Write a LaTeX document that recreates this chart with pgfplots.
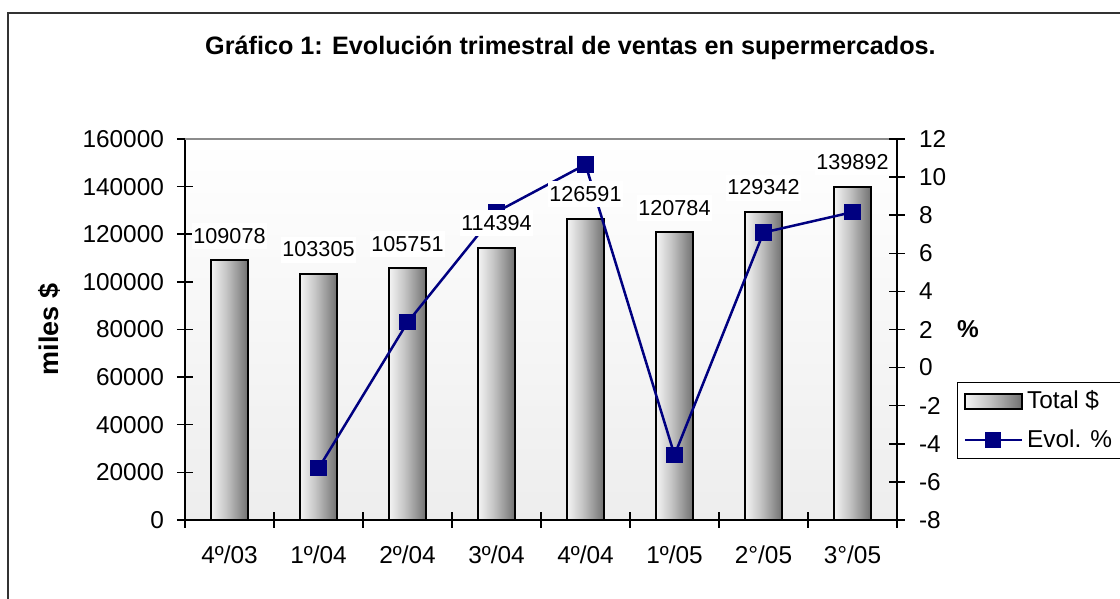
\documentclass[border=0pt]{standalone}
\usepackage{fontspec}
\setmainfont{Liberation Sans}
\usepackage{pgfplots}
\pgfplotsset{compat=1.18}
\definecolor{evolblue}{HTML}{000080}
\pgfdeclarehorizontalshading{barshade}{100bp}{color(0bp)=(black!12); color(20bp)=(white); color(45bp)=(black!22); color(70bp)=(black!50); color(100bp)=(black!90)}

\pgfplotsset{
  basechart/.style={
    scale only axis, width=356pt, height=190.5pt,
    at={(92.5pt,39.5pt)}, anchor=south west,
    xmin=-0.5, xmax=7.5,
    /pgf/number format/assume math mode=true,
    /pgf/number format/fixed,
    /pgf/number format/1000 sep={},
    tick align=center, major tick length=8pt,
    axis line style={-, line width=0.75pt},
    tick style={line width=0.75pt, black},
    ticklabel style={font=\fontsize{12.2}{14}\selectfont},
  },
  totalbar/.style={ybar, bar width=18.5pt, bar shift=0pt, draw=black, line width=1pt, shading=barshade},
  barleg/.style={legend image code/.code={\draw[##1] (0pt,-3.75pt) rectangle (28.5pt,3.75pt);}},
  lineleg/.style={legend image code/.code={\draw[mark repeat=2, mark phase=2, ##1] plot coordinates {(0pt,0pt) (14.25pt,0pt) (28.5pt,0pt)};}},
}

\begin{document}
\begin{tikzpicture}
% bars, left axis (one plot per bar so each gets its own shading)
\begin{axis}[basechart,
  ymin=0, ymax=160000, ytick={0,20000,...,160000},
  scaled y ticks=false,
  yticklabel style={xshift=-3pt},
  axis y line*=left, axis x line*=bottom,
  xtick={-0.5,0.5,...,7.5}, xticklabels={},
  extra x ticks={0,1,2,3,4,5,6,7},
  extra x tick labels={4º/03,1º/04,2º/04,3º/04,4º/04,1º/05,2°/05,3°/05},
  extra x tick style={major tick length=0pt, xticklabel style={yshift=-9.5pt}},
  axis background/.style={shade, top color=white, bottom color=black!7},
  ylabel={miles \$},
  every axis y label/.style={at={(axis description cs:-0.191,0.5)}, rotate=90, anchor=center, font=\bfseries\fontsize{13.5}{16}\selectfont},
]
\addplot[totalbar] coordinates {(0,109078)};
\addplot[totalbar] coordinates {(1,103305)};
\addplot[totalbar] coordinates {(2,105751)};
\addplot[totalbar] coordinates {(3,114394)};
\addplot[totalbar] coordinates {(4,126591)};
\addplot[totalbar] coordinates {(5,120784)};
\addplot[totalbar] coordinates {(6,129342)};
\addplot[totalbar] coordinates {(7,139892)};
\draw[black!45, line width=1pt] (axis description cs:0,1) -- (axis description cs:1,1);
\end{axis}
% percentage line, right axis
\begin{axis}[basechart,
  ymin=-8, ymax=12, ytick={-8,-6,...,12},
  yticklabel style={xshift=3.5pt},
  axis y line*=right, axis x line=none,
  ylabel={\%},
  every axis y label/.style={at={(axis description cs:1.0997,0.5)}, anchor=center, font=\bfseries\fontsize{12.2}{14}\selectfont},
  legend style={at={(axis description cs:1.0843,0.3622)}, anchor=north west, draw=black, line width=0.6pt, font=\fontsize{12.2}{14}\selectfont, row sep=5pt},
  legend cell align=left,
]
\addlegendimage{draw=black, line width=1pt, shading=barshade, barleg}
\addlegendentry{Total \$}
\addplot[evolblue, line width=1.25pt, mark=square*, mark size=3.4pt, mark options={solid, fill=evolblue}, lineleg] coordinates {
  (1,-5.29)(2,2.37)(3,8.17)(4,10.66)(5,-4.59)(6,7.09)(7,8.16)
};
\addlegendentry{Evol. \%\rule{12pt}{0pt}}
\end{axis}
% data labels on top
\begin{axis}[basechart, hide axis,
  ymin=0, ymax=160000,
  nodes near coords style={fill=white, inner xsep=0.5pt, inner ysep=2.7pt, yshift=5.5pt, text=black, font=\fontsize{10.8}{13}\selectfont},
]
\addplot[draw=none, mark=none, nodes near coords] coordinates {
  (0,109078)(1,103305)(2,105751)(3,114394)(4,126591)(5,120784)(6,129342)(7,139892)
};
\end{axis}
\node[anchor=base, font=\bfseries\fontsize{12.6}{15}\selectfont] at (285.25pt,272pt) {Gráfico 1: Evolución trimestral de ventas en supermercados.};
\draw[black!80, line width=0.7pt] (4pt,-5pt) -- (4pt,293pt) -- (565pt,293pt);
\pgfresetboundingbox
\useasboundingbox (0,0) rectangle (560pt,299.5pt);
\end{tikzpicture}
\end{document}
